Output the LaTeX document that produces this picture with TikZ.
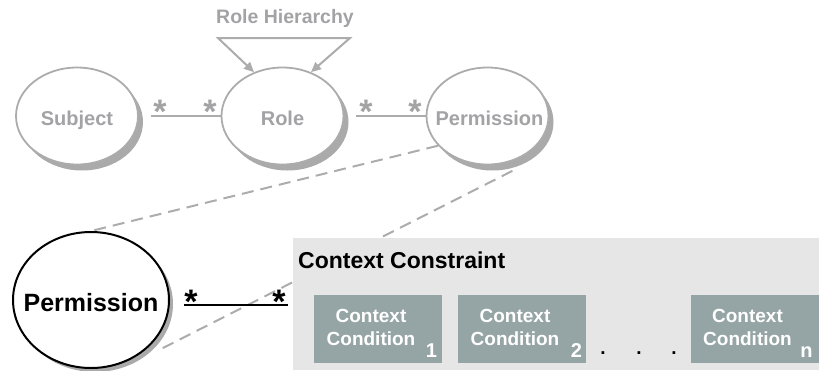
\documentclass[tikz,border=0pt]{standalone}
\usepackage{fontspec}
\setmainfont{Liberation Sans}
\usetikzlibrary{shapes.geometric,shadows,arrows.meta}
\definecolor{lg}{RGB}{172,172,172}
\definecolor{lgtext}{RGB}{163,163,166}
\definecolor{shd}{RGB}{170,170,170}
\definecolor{ccfill}{RGB}{230,230,230}
\definecolor{condfill}{RGB}{149,164,165}
\tikzset{
  gell/.style={ellipse, draw=lg, line width=1.8pt, fill=white, minimum width=122pt,
    minimum height=97pt, inner sep=0pt,
    drop shadow={shadow xshift=5pt, shadow yshift=-6pt, fill=shd, opacity=1}},
  bell/.style={ellipse, draw=black, line width=2pt, fill=white, minimum width=156pt,
    minimum height=136pt, inner sep=0pt,
    drop shadow={shadow xshift=4pt, shadow yshift=-4pt, fill=shd, opacity=1}},
  gtxt/.style={text=lgtext, inner sep=0pt, font=\bfseries\fontsize{20pt}{24pt}\selectfont},
  btxt/.style={text=black, inner sep=0pt, font=\bfseries\fontsize{25pt}{30pt}\selectfont},
  gtext/.style={text=lgtext, inner sep=0pt, font=\bfseries\fontsize{19.5pt}{23pt}\selectfont},
  gstar/.style={text=lgtext, inner sep=0pt, anchor=base, font=\bfseries\fontsize{34pt}{36pt}\selectfont},
  bstar/.style={text=black, inner sep=0pt, anchor=base, font=\bfseries\fontsize{34pt}{36pt}\selectfont},
  gline/.style={draw=lg, line width=2pt},
  bline/.style={draw=black, line width=2pt},
  dline/.style={draw=lg, line width=2pt, dash pattern=on 12pt off 7pt},
  ccbox/.style={fill=ccfill, draw=none, minimum width=526pt, minimum height=132pt, inner sep=0pt},
  condbox/.style={fill=condfill, draw=none, minimum width=128pt, minimum height=68pt, inner sep=0pt},
  condtext/.style={text=white, inner sep=0pt, align=center, font=\bfseries\fontsize{19pt}{23pt}\selectfont},
  subnum/.style={text=white, inner sep=0pt, anchor=base east, font=\bfseries\fontsize{20pt}{24pt}\selectfont},
  dotn/.style={text=black, inner sep=0pt, anchor=base, font=\bfseries\fontsize{19pt}{23pt}\selectfont},
  hd/.style={{Triangle[length=10pt,width=9pt]}-{Triangle[length=10pt,width=9pt]}},
}
\begin{document}
\begin{tikzpicture}[x=1pt,y=-1pt]
\useasboundingbox (0,0) rectangle (819,370);
% top RBAC model
\node[gell, label={[gtxt,yshift=-4pt]center:Subject}] (subj) at (77,116) {};
\node[gell, label={[gtxt,yshift=-2pt]center:Role}] (role) at (282.5,116) {};
\node[gell, label={[gtxt,xshift=2pt,yshift=-2pt]center:Permission}] (perm) at (487.5,116) {};
\draw[gline, shorten <=12pt] (subj) -- (role);
\draw[gline, shorten <=12pt] (role) -- (perm);
\node[gstar] (s1) at (160,123) {*};
\node[gstar] (s2) at (210,123) {*};
\node[gstar] (s3) at (366,123) {*};
\node[gstar] (s4) at (415,123) {*};
% role hierarchy
\node[gtext] (rh) at (285,18) {Role Hierarchy};
\coordinate (rhL) at (218,38);
\coordinate (rhR) at (350,38);
\draw[gline, hd] (role.123) -- (rhL) -- (rhR) -- (role.57);
% big permission
\node[bell, label={[btxt,yshift=-3pt]center:Permission}] (bperm) at (91,300) {};
% dashed zoom lines
\draw[dline] (perm.211) -- (bperm.north);
\draw[dline] ([xshift=-1pt,yshift=-10pt]perm.300) -- ([xshift=6pt,yshift=-6pt]bperm.323);
% context constraint
\node[ccbox, anchor=north west] (cc) at (293,238) {};
\node[anchor=base west, inner sep=0pt, font=\bfseries\fontsize{23pt}{27pt}\selectfont] (cct) at (298,268) {Context Constraint};
\coordinate (pe) at ([yshift=-5pt]bperm.east);
\draw[bline, shorten <=14pt, shorten >=5pt] (pe) -- (pe -| cc.west);
\node[bstar] (b1) at (191,313) {*};
\node[bstar] (b2) at (279,313) {*};
% conditions
\node[condbox] (c1) at (378,329) {};
\node[condbox] (c2) at (522,329) {};
\node[condbox] (cn) at (754.5,329) {};
\node[condtext] (t1) at ([xshift=-7pt,yshift=1.5pt]c1.center) {Context\\Condition};
\node[condtext] (t2) at ([xshift=-7pt,yshift=1.5pt]c2.center) {Context\\Condition};
\node[condtext] (tn) at ([xshift=-7pt,yshift=1.5pt]cn.center) {Context\\Condition};
\node[subnum] (n1) at ([xshift=-5pt,yshift=6pt]c1.south east) {1};
\node[subnum] (n2) at ([xshift=-4pt,yshift=6pt]c2.south east) {2};
\node[subnum] (nn) at ([xshift=-6pt,yshift=6pt]cn.south east) {n};
\node[dotn] (d1) at (603,354) {.};
\node[dotn] (d2) at (639,354) {.};
\node[dotn] (d3) at (674,354) {.};
\end{tikzpicture}
\end{document}
